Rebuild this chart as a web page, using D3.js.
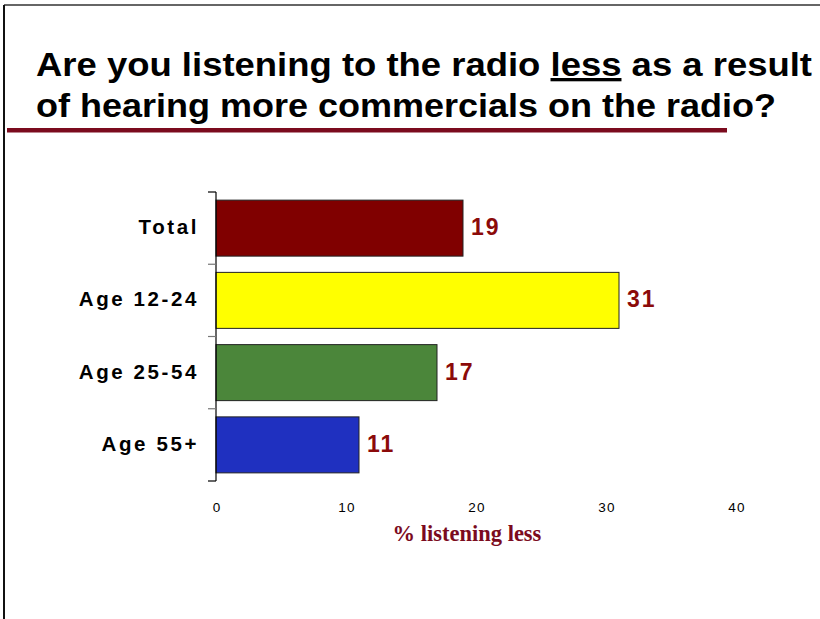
<!DOCTYPE html>
<html>
<head>
<meta charset="utf-8">
<script src="https://cdn.jsdelivr.net/npm/d3@7"></script>
<style>
  body { margin: 0; background: #fff; }
  svg { display: block; }
</style>
</head>
<body>
<svg id="chart"></svg>
<script>
var width = 820;
var height = 619;

// data
var categories = ["Total", "Age 12-24", "Age 25-54", "Age 55+"];
var values = [19, 31, 17, 11];
var barColors = ["#800000", "#FFFF00", "#4B863A", "#1F30C0"];
var xTicks = [0, 10, 20, 30, 40];
var axisTitle = "% listening less";

var svg = d3.select("#chart")
    .attr("width", width)
    .attr("height", height);

// slide frame (left + top edges only are visible)
svg.append("line")
   .attr("x1", 4).attr("y1", 5).attr("x2", width).attr("y2", 5)
   .attr("stroke", "#333").attr("stroke-width", 1.5);
svg.append("line")
   .attr("x1", 4).attr("y1", 5).attr("x2", 4).attr("y2", height)
   .attr("stroke", "#111").attr("stroke-width", 2);

// title
var t1 = svg.append("text")
   .attr("x", 36).attr("y", 76)
   .attr("font-family", "Liberation Sans, Arial, sans-serif")
   .attr("font-weight", "bold")
   .attr("font-size", 33)
   .attr("fill", "#000")
   .attr("textLength", 776)
   .attr("lengthAdjust", "spacingAndGlyphs");
t1.append("tspan").text("Are you listening to the radio ");
t1.append("tspan").attr("text-decoration", "underline").text("less");
t1.append("tspan").text(" as a result");

svg.append("text")
   .attr("x", 36).attr("y", 117)
   .attr("font-family", "Liberation Sans, Arial, sans-serif")
   .attr("font-weight", "bold")
   .attr("font-size", 33)
   .attr("fill", "#000")
   .attr("textLength", 740)
   .attr("lengthAdjust", "spacingAndGlyphs")
   .text("of hearing more commercials on the radio?");

svg.append("rect")
   .attr("x", 7).attr("y", 128)
   .attr("width", 720).attr("height", 4.5)
   .attr("fill", "#7B0B1E");

// chart area
var plotLeft = 216, plotRight = 736, plotTop = 192, plotBottom = 481;

var x = d3.scaleLinear()
    .domain([0, 40])
    .range([plotLeft, plotRight]);

var y = d3.scaleBand()
    .domain(categories)
    .range([plotTop, plotBottom])
    .paddingInner(0.225)
    .paddingOuter(0.1125);

// bars
svg.selectAll("rect.bar")
   .data(values)
   .enter().append("rect")
   .attr("class", "bar")
   .attr("x", x(0))
   .attr("y", function(d, i) { return y(categories[i]); })
   .attr("width", function(d) { return x(d) - x(0); })
   .attr("height", y.bandwidth())
   .attr("fill", function(d, i) { return barColors[i]; })
   .attr("stroke", "#222")
   .attr("stroke-width", 1);

// value labels
svg.selectAll("text.val")
   .data(values)
   .enter().append("text")
   .attr("class", "val")
   .attr("x", function(d) { return x(d) + 8; })
   .attr("y", function(d, i) { return y(categories[i]) + y.bandwidth() / 2 + 7; })
   .attr("font-family", "Liberation Sans, Arial, sans-serif")
   .attr("font-weight", "bold")
   .attr("font-size", 23)
   .attr("letter-spacing", 2)
   .attr("fill", "#8B0A0A")
   .text(function(d) { return d; });

// y axis: vertical line with ticks between bands
var yEdges = categories.map(function(c) { return y(c) - y.step() * y.paddingOuter(); });
yEdges.push(plotBottom);

svg.append("line")
   .attr("x1", plotLeft).attr("y1", plotTop).attr("x2", plotLeft).attr("y2", plotBottom)
   .attr("stroke", "#000").attr("stroke-width", 1.2);

svg.selectAll("line.ytick")
   .data(yEdges)
   .enter().append("line")
   .attr("class", "ytick")
   .attr("x1", plotLeft - 8).attr("x2", plotLeft)
   .attr("y1", function(d) { return d; })
   .attr("y2", function(d) { return d; })
   .attr("stroke", function(d, i) { return (i === 0 || i === yEdges.length - 1) ? "#000" : "#777"; })
   .attr("stroke-width", 1.2);

// category labels
svg.selectAll("text.cat")
   .data(categories)
   .enter().append("text")
   .attr("class", "cat")
   .attr("x", 199)
   .attr("y", function(d) { return y(d) + y.bandwidth() / 2 + 6; })
   .attr("text-anchor", "end")
   .attr("font-family", "Liberation Sans, Arial, sans-serif")
   .attr("font-weight", "bold")
   .attr("font-size", 20.5)
   .attr("letter-spacing", 2.6)
   .attr("fill", "#000")
   .text(function(d) { return d; });

// x tick labels
svg.selectAll("text.xt")
   .data(xTicks)
   .enter().append("text")
   .attr("class", "xt")
   .attr("x", function(d) { return x(d) + 1; })
   .attr("y", 512)
   .attr("text-anchor", "middle")
   .attr("font-family", "Liberation Sans, Arial, sans-serif")
   .attr("font-size", 13.5)
   .attr("letter-spacing", 1.2)
   .attr("fill", "#000")
   .text(function(d) { return d; });

// x axis title
svg.append("text")
   .attr("x", 467)
   .attr("y", 541)
   .attr("text-anchor", "middle")
   .attr("font-family", "Liberation Serif, Times New Roman, serif")
   .attr("font-weight", "bold")
   .attr("font-size", 22.5)
   .attr("fill", "#7B0B1E")
   .text(axisTitle);
</script>
</body>
</html>
